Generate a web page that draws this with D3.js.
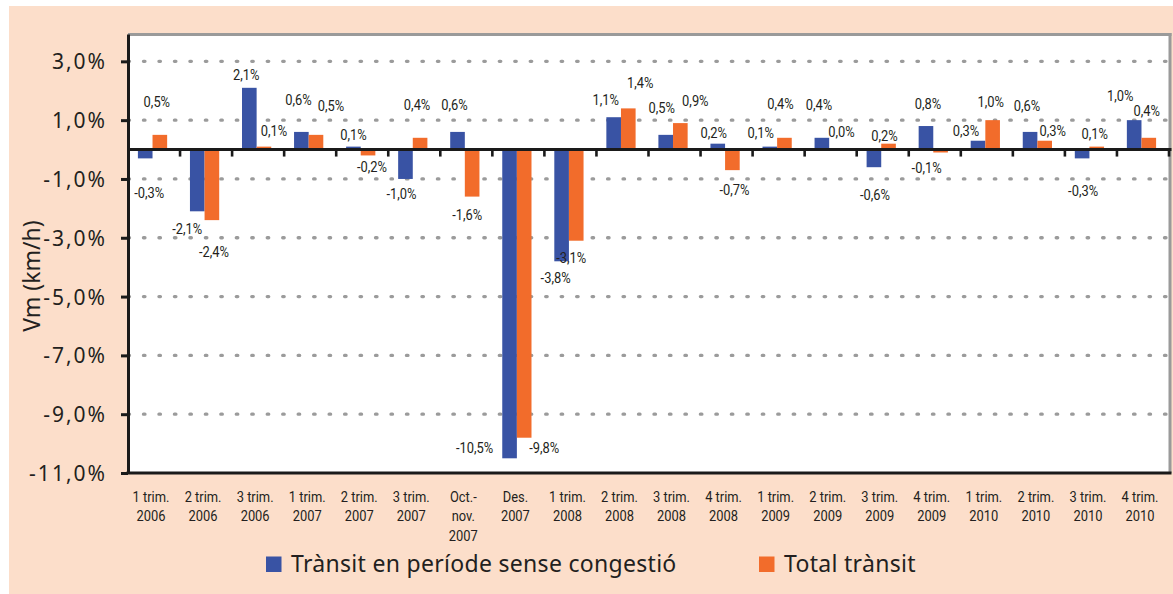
<!DOCTYPE html>
<html>
<head>
<meta charset="utf-8">
<script src="https://cdn.jsdelivr.net/npm/d3@7"></script>
<style>
  html, body { margin: 0; padding: 0; background: #ffffff; }
  svg { display: block; }
</style>
</head>
<body>
<svg id="chart" width="1173" height="594"></svg>
<script>
// ---------------- DATA ----------------
const categories = [
  "1 trim.|2006", "2 trim.|2006", "3 trim.|2006", "1 trim.|2007", "2 trim.|2007",
  "3 trim.|2007", "Oct.-|nov.|2007", "Des.|2007", "1 trim.|2008", "2 trim.|2008",
  "3 trim.|2008", "4 trim.|2008", "1 trim.|2009", "2 trim.|2009", "3 trim.|2009",
  "4 trim.|2009", "1 trim.|2010", "2 trim.|2010", "3 trim.|2010", "4 trim.|2010"
];
const seriesNames = ["Trànsit en període sense congestió", "Total trànsit"];
const transitSenseCongestio = [-0.3, -2.1, 2.1, 0.6, 0.1, -1.0, 0.6, -10.5, -3.8, 1.1,
                               0.5, 0.2, 0.1, 0.4, -0.6, 0.8, 0.3, 0.6, -0.3, 1.0];
const totalTransit = [0.5, -2.4, 0.1, 0.5, -0.2, 0.4, -1.6, -9.8, -3.1, 1.4,
                      0.9, -0.7, 0.4, 0.0, 0.2, -0.1, 1.0, 0.3, 0.1, 0.4];
const yTickValues = [3, 1, -1, -3, -5, -7, -9, -11];

// label nudges (px, relative to bar end) reproducing the manual label placement
const labelNudgeBlue = [[4,34],[-10,17],[-3,-13],[-3,-32],[0,-12],[-4,15],[-3,-27],[-35,-11],[-6,16],[-8,-18],
                        [-4,-27],[-4,-11],[-9,-14],[-3,-33],[1,27],[2,-22],[-12,-10],[-3,-26],[1,32],[-14,-25]];
const labelNudgeOrange = [[-3,-33],[2,31],[10,-16],[15,-29],[4,11],[-3,-33],[-5,18],[20,10],[-5,17],[12,-26],
                          [15,-23],[2,19],[-4,-34],[5,-18],[-4,-8],[-14,15],[-2,-19],[8,-10],[-2,-13],[-2,-27]];

// ---------------- STYLE ----------------
const colors = ["#3953A4", "#F26C2B"];
const textColor = "#231F20";
const svg = d3.select("#chart");

const plot = { left: 128, right: 1170, top: 34, bottom: 473 };
const condensed = "Roboto, 'Liberation Sans', sans-serif";
const squeeze = 0.86;

// background panel
svg.append("rect").attr("x", 9).attr("y", 6).attr("width", 1164).attr("height", 588)
  .attr("fill", "#FCDECA");
svg.append("rect").attr("x", plot.left).attr("y", plot.top)
  .attr("width", plot.right - plot.left).attr("height", plot.bottom - plot.top)
  .attr("fill", "#ffffff");

// ---------------- SCALES ----------------
const x0 = d3.scaleBand().domain(categories).range([plot.left, plot.right - 1]).padding(0);
const x1 = d3.scaleBand().domain(seriesNames).range([0, x0.bandwidth()]).paddingInner(0).paddingOuter(0.78);
const y = d3.scaleLinear().domain([-11, 3.93]).range([plot.bottom, plot.top]);

// gridlines
svg.append("g").selectAll("line")
  .data(yTickValues.filter(v => v !== -11))
  .join("line")
  .attr("x1", plot.left).attr("x2", plot.right - 3)
  .attr("y1", d => y(d)).attr("y2", d => y(d))
  .attr("stroke", "#9B9B9B").attr("stroke-width", 3.3)
  .attr("stroke-linecap", "round")
  .attr("stroke-dasharray", "1.5,13.97");

// top / right gray frame
svg.append("line").attr("x1", plot.left).attr("x2", plot.right + 1.5)
  .attr("y1", plot.top + 0.5).attr("y2", plot.top + 0.5)
  .attr("stroke", "#9A9A9A").attr("stroke-width", 3);
svg.append("line").attr("x1", plot.right).attr("x2", plot.right)
  .attr("y1", plot.top - 1).attr("y2", plot.bottom)
  .attr("stroke", "#9A9A9A").attr("stroke-width", 3);

// ---------------- BARS ----------------
const seriesData = [transitSenseCongestio, totalTransit];
const rows = [];
categories.forEach((c, i) => {
  seriesNames.forEach((s, j) => {
    rows.push({ cat: c, series: s, si: j, i: i, value: seriesData[j][i],
                nudge: (j === 0 ? labelNudgeBlue : labelNudgeOrange)[i] });
  });
});

const barG = svg.append("g").attr("transform", "translate(-1.5,0)");
barG.selectAll("rect")
  .data(rows)
  .join("rect")
  .attr("x", d => x0(d.cat) + x1(d.series))
  .attr("width", x1.bandwidth())
  .attr("y", d => y(Math.max(0, d.value)))
  .attr("height", d => Math.abs(y(d.value) - y(0)))
  .attr("fill", d => colors[d.si]);

// zero line with boundary ticks
svg.append("line").attr("x1", plot.left).attr("x2", plot.right + 1.5)
  .attr("y1", y(0)).attr("y2", y(0))
  .attr("stroke", "#1a1a1a").attr("stroke-width", 3);
svg.append("g").selectAll("line")
  .data(categories)
  .join("line")
  .attr("x1", d => x0(d) + x0.bandwidth()).attr("x2", d => x0(d) + x0.bandwidth())
  .attr("y1", y(0)).attr("y2", y(0) + 7)
  .attr("stroke", "#1a1a1a").attr("stroke-width", 2.6);

// bottom axis line
svg.append("line").attr("x1", plot.left - 1.5).attr("x2", plot.right + 1.5)
  .attr("y1", plot.bottom).attr("y2", plot.bottom)
  .attr("stroke", "#1a1a1a").attr("stroke-width", 3);

// ---------------- Y AXIS ----------------
const fmtAxis = v => (v < 0 ? "-" : "") + Math.abs(v).toFixed(1).replace(".", ",") + "%";
const yAxis = d3.axisLeft(y).tickValues(yTickValues).tickSize(7).tickSizeOuter(0)
  .tickPadding(14).tickFormat(fmtAxis);
const yAxisG = svg.append("g").attr("transform", `translate(${plot.left},0)`).call(yAxis);
yAxisG.select(".domain").attr("stroke", "#1a1a1a").attr("stroke-width", 3);
yAxisG.selectAll(".tick line").attr("stroke", "#1a1a1a").attr("stroke-width", 3);
yAxisG.selectAll(".tick text")
  .attr("fill", textColor)
  .style("font-family", "'Noto Sans', 'Open Sans', sans-serif")
  .style("font-size", "21px")
  .style("letter-spacing", "2px")
  .attr("dy", "0.36em");

// y axis title
svg.append("text")
  .attr("transform", "translate(31,276) rotate(-90)")
  .attr("text-anchor", "middle").attr("dominant-baseline", "central")
  .attr("fill", textColor)
  .style("font-family", "'Noto Sans', 'Open Sans', sans-serif")
  .style("font-size", "23px")
  .text("Vm (km/h)");

// ---------------- X LABELS ----------------
const xl = svg.append("g");
categories.forEach(c => {
  const t = xl.append("text")
    .attr("transform", `translate(${x0(c) + x0.bandwidth() / 2 - 3},501.5) scale(${squeeze},1)`)
    .attr("text-anchor", "middle")
    .attr("fill", textColor)
    .style("font-family", condensed)
    .style("font-size", "15px");
  c.split("|").forEach((line, k) => {
    t.append("tspan").attr("x", 0).attr("y", k * 20).text(line);
  });
});

// ---------------- DATA LABELS ----------------
svg.append("g").selectAll("text")
  .data(rows)
  .join("text")
  .attr("transform", d =>
    `translate(${x0(d.cat) + x1(d.series) + x1.bandwidth() / 2 - 1.5 + d.nudge[0]},${y(d.value) + d.nudge[1]}) scale(${squeeze},1)`)
  .attr("dy", "0.36em")
  .attr("text-anchor", "middle")
  .attr("fill", textColor)
  .style("font-family", condensed)
  .style("font-size", "15px")
  .text(d => fmtAxis(d.value));

// ---------------- LEGEND ----------------
const legendX = [266, 759];
const lg = svg.append("g");
seriesNames.forEach((s, j) => {
  lg.append("rect").attr("x", legendX[j]).attr("y", 556.5)
    .attr("width", 15.5).attr("height", 15.5).attr("fill", colors[j]);
  lg.append("text").attr("x", legendX[j] + 25).attr("y", 572.3)
    .attr("fill", textColor)
    .style("font-family", "'Noto Sans', 'Open Sans', sans-serif")
    .style("font-size", "23px")
    .style("letter-spacing", "0.3px")
    .text(s);
});
</script>
</body>
</html>
